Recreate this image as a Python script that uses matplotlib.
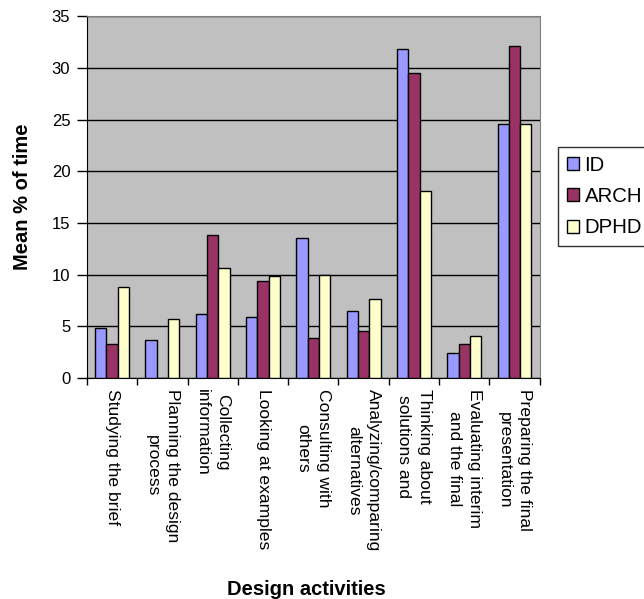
import numpy as np
from matplotlib import pyplot as plt

plt.rcParams['font.family'] = ['Liberation Sans', 'DejaVu Sans']

# mean % of time per design activity
activities = ['Studying the brief',
              'Planning the design\nprocess',
              'Collecting\ninformation',
              'Looking at examples',
              'Consulting with\nothers',
              'Analyzing/comparing\nalternatives',
              'Thinking about\nsolutions and',
              'Evaluating interim\nand the final',
              'Preparing the final\npresentation']
id_vals = [4.8, 3.7, 6.2, 5.9, 13.5, 6.5, 31.8, 2.4, 24.6]
arch_vals = [3.3, 0.0, 13.8, 9.4, 3.9, 4.5, 29.5, 3.3, 32.1]
dphd_vals = [8.8, 5.7, 10.6, 9.9, 10.0, 7.6, 18.1, 4.1, 24.6]

groups = ['ID', 'ARCH', 'DPHD']
colors = ['#9999FF', '#993366', '#FFFFCC']

fig = plt.figure(figsize=(6.44, 5.99), dpi=100)
ax = fig.add_axes([0.135, 0.369, 0.703, 0.604])
ax.set_facecolor('#C0C0C0')

x = np.arange(len(activities))
w = 0.225
for k, (vals, name, c) in enumerate(zip([id_vals, arch_vals, dphd_vals], groups, colors)):
    ax.bar(x + (k - 1) * w, vals, width=w, color=c, edgecolor='black',
           linewidth=1.0, label=name, zorder=3)

ax.set_xlim(-0.5, len(activities) - 0.5)
ax.set_ylim(0, 35)
ax.set_yticks(np.arange(0, 36, 5))
ax.yaxis.grid(True, color='black', linewidth=1.0, zorder=1)
ax.tick_params(axis='y', labelsize=12, length=7, width=1, direction='out', pad=5)

# category ticks sit on the boundaries, labels in between
ax.set_xticks(np.arange(-0.5, len(activities), 1.0))
ax.set_xticklabels([])
ax.tick_params(axis='x', length=5, width=1, direction='out')
for i, lab in enumerate(activities):
    ax.text(i, -1.1, lab, rotation=270, ha='center', va='top',
            multialignment='center', fontsize=12.6,
            transform=ax.transData, linespacing=1.45)

for side in ['top', 'right']:
    ax.spines[side].set_color('#808080')
ax.spines['left'].set_color('black')
ax.spines['bottom'].set_color('black')

ax.set_ylabel('Mean % of time', fontsize=14.5, fontweight='bold', labelpad=14)
fig.text(0.475, 0.0165, 'Design activities', ha='center', va='center',
         fontsize=14.5, fontweight='bold')

leg = fig.legend(loc='center left', bbox_to_anchor=(0.8665, 0.672), frameon=True,
                 fancybox=False, edgecolor='black', fontsize=14.7,
                 handlelength=0.6, handleheight=0.6, handletextpad=0.25,
                 borderpad=0.45, labelspacing=0.6, borderaxespad=0)
leg.get_frame().set_linewidth(1.0)

fig.savefig('out.png', dpi=100)
